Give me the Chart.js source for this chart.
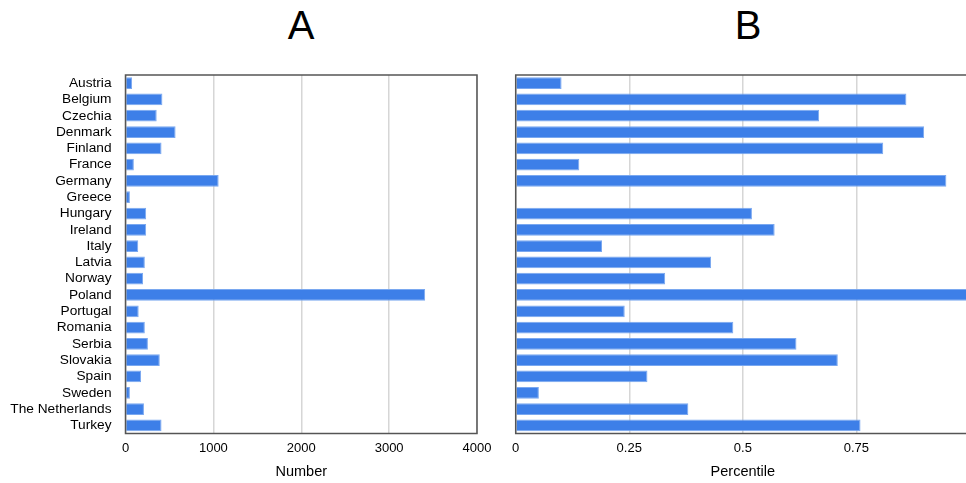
<!DOCTYPE html>
<html>
<head>
<meta charset="utf-8">
<script src="https://cdn.jsdelivr.net/npm/chart.js@4"></script>
<style>
  html, body { margin: 0; padding: 0; background: #fff; overflow: hidden; }
  body { width: 966px; height: 483px; position: relative; font-family: "Liberation Sans", Arial, sans-serif; }
  .panel-title { position: absolute; top: 2px; font-size: 40px; line-height: 46px; color: #000; transform: translateX(-50%); }
  .box { position: absolute; top: 0; height: 483px; }
</style>
</head>
<body>
<div class="panel-title" style="left:301px">A</div>
<div class="panel-title" style="left:748px">B</div>
<div class="box" style="left:0; width:500px;"><canvas id="chartA"></canvas></div>
<div class="box" style="left:490px; width:500px;"><canvas id="chartB"></canvas></div>
<script>
// Danh sách quốc gia
const countries = ['Austria', 'Belgium', 'Czechia', 'Denmark', 'Finland', 'France', 'Germany', 'Greece',
    'Hungary', 'Ireland', 'Italy', 'Latvia', 'Norway', 'Poland', 'Portugal', 'Romania', 'Serbia',
    'Slovakia', 'Spain', 'Sweden', 'The Netherlands', 'Turkey'];

// Biểu đồ A - số lượng
const numberValues = [75, 420, 355, 570, 410, 95, 1060, 50, 235, 235, 145, 220, 200, 3410, 150, 220,
    255, 390, 177, 50, 210, 410];

// Biểu đồ B - phân vị
const percentileValues = [0.101, 0.86, 0.668, 0.899, 0.809, 0.14, 0.948, 0, 0.52, 0.57, 0.19, 0.43,
    0.329, 1.0, 0.24, 0.479, 0.618, 0.709, 0.29, 0.051, 0.38, 0.759];

const numberTicks = [0, 1000, 2000, 3000, 4000];
const percentileTicks = [0, 0.25, 0.5, 0.75, 1];

const barColor = '#3d7fe8';
const barEdge = '#7aa8f0';
const fontFamily = '"Liberation Sans", Arial, sans-serif';

// Vẽ khung quanh vùng biểu đồ
const framePlugin = {
    id: 'frame',
    afterDraw(chart) {
        const a = chart.chartArea;
        const ctx = chart.ctx;
        ctx.save();
        ctx.strokeStyle = '#555';
        ctx.lineWidth = 1.5;
        ctx.strokeRect(a.left, a.top, a.right - a.left, a.bottom - a.top);
        ctx.restore();
    }
};

function makeConfig(values, ticks, title, yWidth, showLabels, padRight) {
    return {
        type: 'bar',
        data: {
            labels: countries,
            datasets: [{
                data: values,
                backgroundColor: barColor,
                borderColor: barEdge,
                borderWidth: 1,
                barPercentage: 0.72,
                categoryPercentage: 1.0
            }]
        },
        options: {
            indexAxis: 'y',
            responsive: true,
            maintainAspectRatio: false,
            animation: false,
            layout: { padding: { top: 75, right: padRight, bottom: 2.5, left: 0 } },
            plugins: { legend: { display: false }, tooltip: { enabled: false } },
            scales: {
                x: {
                    min: ticks[0],
                    max: ticks[ticks.length - 1],
                    afterBuildTicks: function(axis) {
                        axis.ticks = ticks.map(v => ({ value: v }));
                    },
                    grid: { color: '#d6d6d6', lineWidth: 1.5, drawTicks: false },
                    border: { display: false },
                    ticks: {
                        color: '#000',
                        font: { family: fontFamily, size: 13 },
                        padding: 7,
                        maxRotation: 0,
                        callback: function(value) { return String(value); }
                    },
                    title: { display: true, text: title, color: '#000', font: { family: fontFamily, size: 14.5 }, padding: { top: 0, bottom: 0 } }
                },
                y: {
                    afterFit: function(axis) { axis.width = yWidth; },
                    grid: { display: false, drawTicks: false },
                    border: { display: false },
                    ticks: { display: showLabels, color: '#000', font: { family: fontFamily, size: 13.7 }, padding: 14, autoSkip: false }
                }
            }
        },
        plugins: [framePlugin]
    };
}

new Chart(document.getElementById('chartA').getContext('2d'),
    makeConfig(numberValues, numberTicks, 'Number', 125.5, true, 23));
new Chart(document.getElementById('chartB').getContext('2d'),
    makeConfig(percentileValues, percentileTicks, 'Percentile', 25.7, false, 20));
</script>
</body>
</html>
